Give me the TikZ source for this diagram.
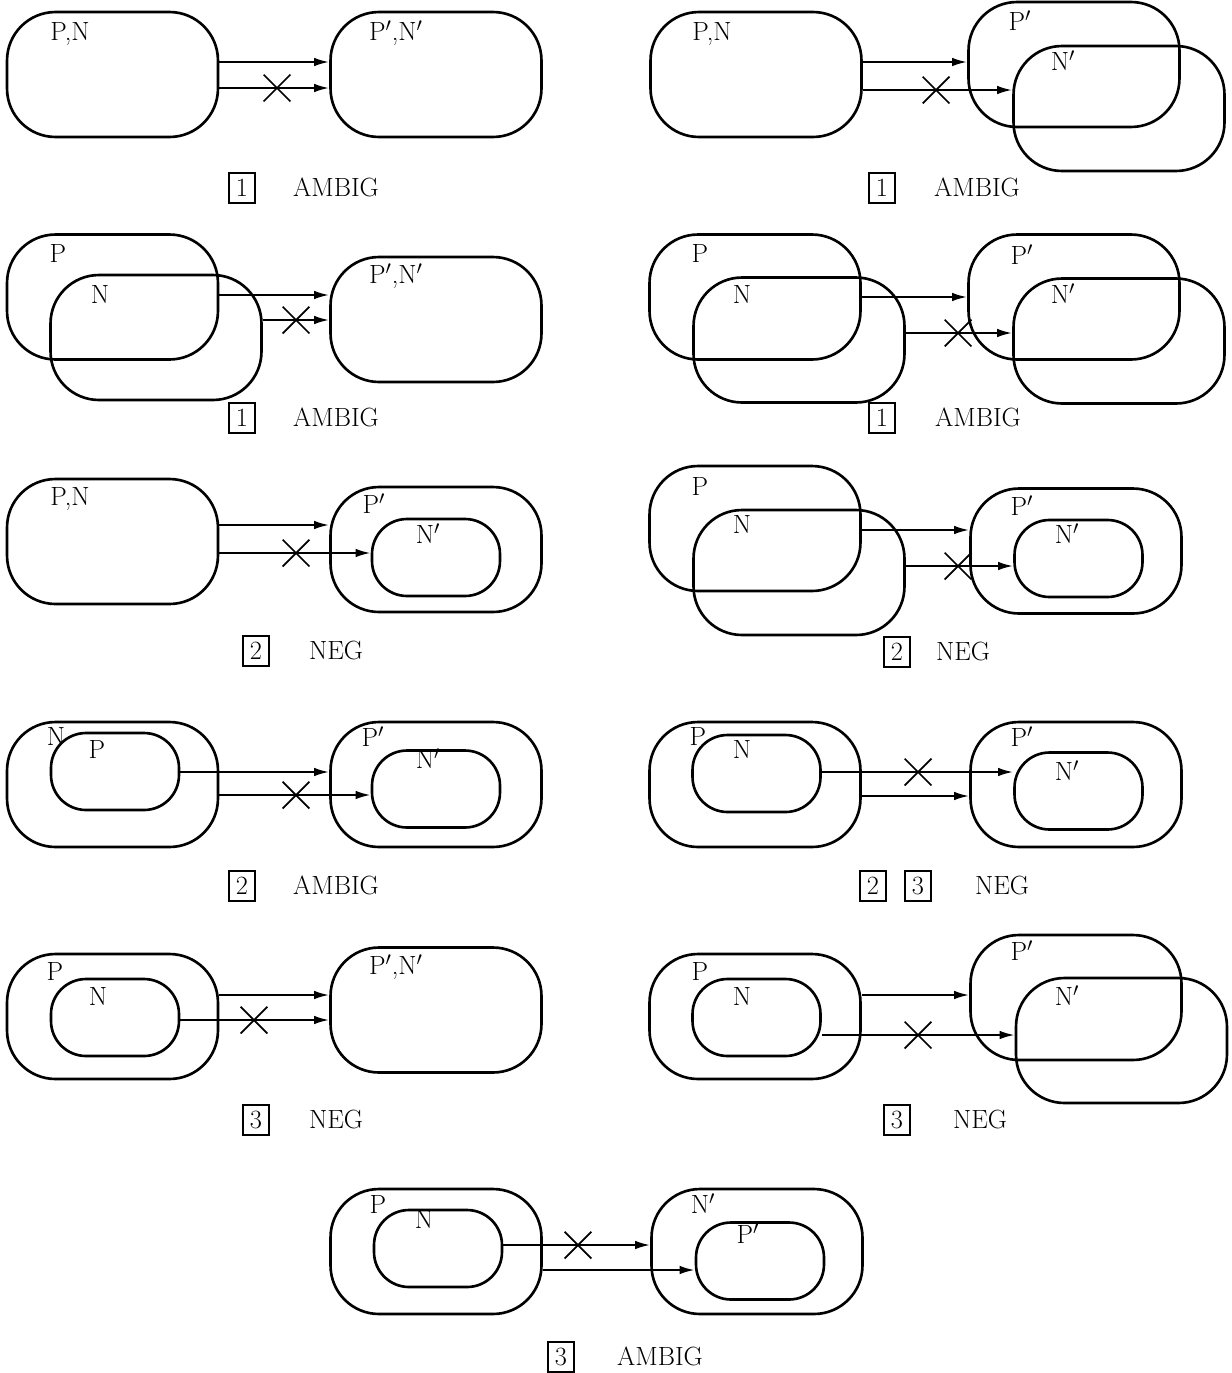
\documentclass[tikz,border=0pt]{standalone}
\usetikzlibrary{arrows.meta,shapes.misc}
\newcommand{\labfont}{\fontsize{15}{18}\selectfont}
\begin{document}
\begin{tikzpicture}[x=0.02cm,y=-0.02cm,
  obox/.style={draw,line width=1.5pt,rounded corners=0.97cm,minimum width=4.22cm,minimum height=2.5cm,inner sep=0pt},
  ibox/.style={draw,line width=1.5pt,rounded corners=0.7cm,minimum width=2.56cm,minimum height=1.54cm,inner sep=0pt},
  lbl/.style={inner sep=0pt,text height=10pt,text depth=0pt,font=\labfont},
  arr/.style={line width=1.2pt,-{Latex[length=0.3cm,width=0.17cm]}},
  xmark/.style={cross out,draw,line width=1pt,minimum size=0.5cm,inner sep=0pt},
  numbox/.style={draw,line width=0.9pt,minimum width=0.52cm,minimum height=0.6cm,inner sep=0pt,text height=10pt,text depth=0pt,font=\labfont},
  captxt/.style={inner sep=0pt,text height=10pt,text depth=0pt,font=\labfont}]
\useasboundingbox (0,0) rectangle (1231,1373);

% ---------- Panel A ----------
\node[obox] (aL) at (112.5,74.5) {};
\node[obox] (aR) at (436,74.5) {};
\node[lbl] (aLl) at (70,32) {P,N};
\node[lbl] (aRl) at (396,32) {P$'$,N$'$};
\draw[arr] (aL.east |- 0,62) -- (aR.west |- 0,62);
\draw[arr] (aL.east |- 0,88) -- (aR.west |- 0,88);
\node[xmark] (aX) at (277,88) {};
\node[numbox] (aN) at (242,188) {1};
\node[captxt] (aC) at (336,188) {AMBIG};

% ---------- Panel B ----------
\node[obox] (bL) at (756,74.5) {};
\node[obox] (bP) at (1074,64.5) {};
\node[obox] (bN) at (1119,108.5) {};
\node[lbl] (bLl) at (712,32) {P,N};
\node[lbl] (bPl) at (1020,22) {P$'$};
\node[lbl] (bNl) at (1063,62) {N$'$};
\draw[arr] (bL.east |- 0,62) -- (bP.west |- 0,62);
\draw[arr] (bL.east |- 0,90) -- (bN.west |- 0,90);
\node[xmark] (bX) at (936,90) {};
\node[numbox] (bNb) at (882,188) {1};
\node[captxt] (bC) at (977,188) {AMBIG};

% ---------- Panel C ----------
\node[obox] (cP) at (112.5,297) {};
\node[obox] (cN) at (156,337.5) {};
\node[obox] (cR) at (436,319.5) {};
\node[lbl] (cPl) at (58,254) {P};
\node[lbl] (cNl) at (100,295) {N};
\node[lbl] (cRl) at (396,275) {P$'$,N$'$};
\draw[arr] (cP.east |- 0,295) -- (cR.west |- 0,295);
\draw[arr] (cN.east |- 0,320) -- (cR.west |- 0,320);
\node[xmark] (cX) at (296,320) {};
\node[numbox] (cNb) at (242,418) {1};
\node[captxt] (cC) at (336,418) {AMBIG};

% ---------- Panel D ----------
\node[obox] (dP) at (755,297) {};
\node[obox] (dN) at (799,340) {};
\node[obox] (dP2) at (1074,297) {};
\node[obox] (dN2) at (1119,341) {};
\node[lbl] (dPl) at (700,254) {P};
\node[lbl] (dNl) at (742,295) {N};
\node[lbl] (dP2l) at (1022,256) {P$'$};
\node[lbl] (dN2l) at (1063,295) {N$'$};
\draw[arr] (dP.east |- 0,297) -- (dP2.west |- 0,297);
\draw[arr] (dN.east |- 0,333) -- (dN2.west |- 0,333);
\node[xmark] (dX) at (958,333) {};
\node[numbox] (dNb) at (882,418) {1};
\node[captxt] (dC) at (978,418) {AMBIG};

% ---------- Panel E ----------
\node[obox] (eL) at (112.5,541.5) {};
\node[obox] (eP) at (436,549.5) {};
\node[ibox] (eN) at (436,557.5) {};
\node[lbl] (eLl) at (70,497) {P,N};
\node[lbl] (ePl) at (374,505) {P$'$};
\node[lbl] (eNl) at (428,535) {N$'$};
\draw[arr] (eL.east |- 0,525) -- (eP.west |- 0,525);
\draw[arr] (eL.east |- 0,553) -- (eN.west |- 0,553);
\node[xmark] (eX) at (296,553) {};
\node[numbox] (eNb) at (256,651) {2};
\node[captxt] (eC) at (336,651) {NEG};

% ---------- Panel F ----------
\node[obox] (fP) at (755,528.5) {};
\node[obox] (fN) at (799,572.5) {};
\node[obox] (fP2) at (1076,551) {};
\node[ibox] (fN2) at (1078.5,558.5) {};
\node[lbl] (fPl) at (700,487) {P};
\node[lbl] (fNl) at (742,525) {N};
\node[lbl] (fP2l) at (1022,507) {P$'$};
\node[lbl] (fN2l) at (1067,535) {N$'$};
\draw[arr] (fP.east |- 0,530) -- (fP2.west |- 0,530);
\draw[arr] (fN.east |- 0,566) -- (fN2.west |- 0,566);
\node[xmark] (fX) at (958,566) {};
\node[numbox] (fNb) at (897,652) {2};
\node[captxt] (fC) at (963,652) {NEG};

% ---------- Panel G ----------
\node[obox] (gN) at (112.5,784.5) {};
\node[ibox] (gP) at (115,771.5) {};
\node[obox] (gP2) at (436,784.5) {};
\node[ibox] (gN2) at (436,789) {};
\node[lbl] (gNl) at (56,737) {N};
\node[lbl] (gPl) at (97,750) {P};
\node[lbl] (gP2l) at (373,738) {P$'$};
\node[lbl] (gN2l) at (428,760) {N$'$};
\draw[arr] (gP.east |- 0,772) -- (gP2.west |- 0,772);
\draw[arr] (gN.east |- 0,795) -- (gN2.west |- 0,795);
\node[xmark] (gX) at (296,795) {};
\node[numbox] (gNb) at (242,886) {2};
\node[captxt] (gC) at (336,886) {AMBIG};

% ---------- Panel H ----------
\node[obox] (hP) at (755,784.5) {};
\node[ibox] (hN) at (756.5,773.5) {};
\node[obox] (hP2) at (1076,784.5) {};
\node[ibox] (hN2) at (1078.5,791) {};
\node[lbl] (hPl) at (698,737) {P};
\node[lbl] (hNl) at (742,750) {N};
\node[lbl] (hP2l) at (1022,738) {P$'$};
\node[lbl] (hN2l) at (1067,772) {N$'$};
\draw[arr] (hN.east |- 0,772) -- (hN2.west |- 0,772);
\draw[arr] (hP.east |- 0,796) -- (hP2.west |- 0,796);
\node[xmark] (hX) at (918,772) {};
\node[numbox] (hNb1) at (873,886) {2};
\node[numbox] (hNb2) at (918,886) {3};
\node[captxt] (hC) at (1002,886) {NEG};

% ---------- Panel I ----------
\node[obox] (iP) at (112.5,1016.5) {};
\node[ibox] (iN) at (115,1017.5) {};
\node[obox] (iR) at (436,1010) {};
\node[lbl] (iPl) at (55,972) {P};
\node[lbl] (iNl) at (98,997) {N};
\node[lbl] (iRl) at (396,966) {P$'$,N$'$};
\draw[arr] (iP.east |- 0,995) -- (iR.west |- 0,995);
\draw[arr] (iN.east |- 0,1020) -- (iR.west |- 0,1020);
\node[xmark] (iX) at (254,1020) {};
\node[numbox] (iNb) at (256,1120) {3};
\node[captxt] (iC) at (336,1120) {NEG};

% ---------- Panel J ----------
\node[obox] (jP) at (755,1016.5) {};
\node[ibox] (jN) at (756.5,1017.5) {};
\node[obox] (jP2) at (1076,997.5) {};
\node[obox] (jN2) at (1121.5,1040.5) {};
\node[lbl] (jPl) at (700,972) {P};
\node[lbl] (jNl) at (742,997) {N};
\node[lbl] (jP2l) at (1022,952) {P$'$};
\node[lbl] (jN2l) at (1067,997) {N$'$};
\draw[arr] (jP.east |- 0,995) -- (jP2.west |- 0,995);
\draw[arr] (jN.east |- 0,1035) -- (jN2.west |- 0,1035);
\node[xmark] (jX) at (918,1035) {};
\node[numbox] (jNb) at (897,1120) {3};
\node[captxt] (jC) at (980,1120) {NEG};

% ---------- Panel K ----------
\node[obox] (kP) at (436,1251.5) {};
\node[ibox] (kN) at (438,1248.5) {};
\node[obox] (kN2) at (757,1251.5) {};
\node[ibox] (kP2) at (760,1261) {};
\node[lbl] (kPl) at (378,1205) {P};
\node[lbl] (kNl) at (424,1220) {N};
\node[lbl] (kN2l) at (703,1205) {N$'$};
\node[lbl] (kP2l) at (748,1235) {P$'$};
\draw[arr] (kN.east |- 0,1245) -- (kN2.west |- 0,1245);
\draw[arr] (kP.east |- 0,1270) -- (kP2.west |- 0,1270);
\node[xmark] (kX) at (578,1245) {};
\node[numbox] (kNb) at (561,1357) {3};
\node[captxt] (kC) at (660,1357) {AMBIG};
\end{tikzpicture}
\end{document}
